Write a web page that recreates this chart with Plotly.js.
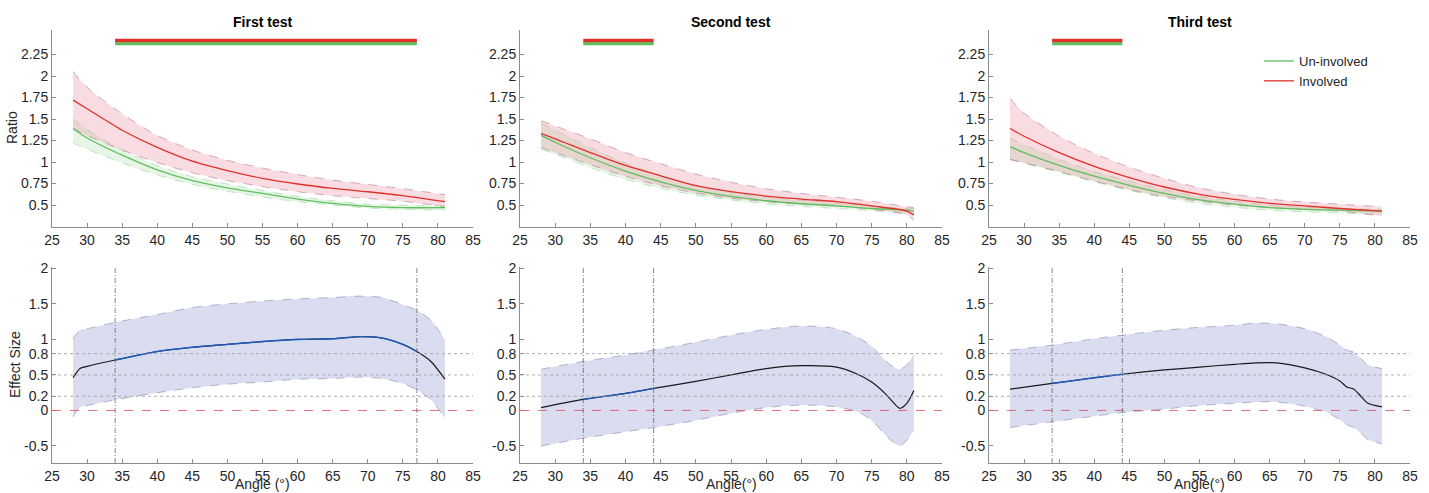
<!DOCTYPE html>
<html>
<head>
<meta charset="utf-8">
<script src="https://cdn.plot.ly/plotly-3.0.1.min.js"></script>
<style>html,body{margin:0;padding:0;background:#fff;}#chart{width:1429px;height:493px;}</style>
</head>
<body>
<div id="chart"></div>
<script>
// ---------- Data ----------
const testTitles = ['First test', 'Second test', 'Third test'];
const xTitles = ['Angle (°)', 'Angle(°)', 'Angle(°)'];
const sigStart = [34, 34, 34];
const sigEnd = [77, 44, 44];
const esRefLines = [0.8, 0.5, 0.2];
const ratioTicks = [0.5, 0.75, 1, 1.25, 1.5, 1.75, 2, 2.25];
const esTicks = [-0.5, 0, 0.2, 0.5, 0.8, 1, 1.5, 2];
const xTicks = [25, 30, 35, 40, 45, 50, 55, 60, 65, 70, 75, 80, 85];
const sigRedLevel = 2.41;
const sigGreenLevel = 2.375;

// First test - ratio
const angR1 = [28, 30, 35, 40, 45, 50, 55, 60, 65, 70, 75, 81];
const invMean1 = [1.72, 1.62, 1.37, 1.17, 1.01, 0.90, 0.81, 0.745, 0.695, 0.655, 0.61, 0.54];
const invUp1 = [2.05, 1.87, 1.56, 1.31, 1.14, 1.02, 0.93, 0.855, 0.79, 0.74, 0.69, 0.62];
const invLow1 = [1.39, 1.31, 1.14, 0.995, 0.875, 0.785, 0.715, 0.655, 0.61, 0.575, 0.545, 0.48];
const uniMean1 = [1.39, 1.28, 1.08, 0.91, 0.785, 0.70, 0.635, 0.57, 0.52, 0.485, 0.47, 0.47];
const uniUp1 = [1.50, 1.38, 1.14, 0.96, 0.83, 0.745, 0.67, 0.60, 0.55, 0.51, 0.50, 0.49];
const uniLow1 = [1.22, 1.15, 0.99, 0.85, 0.74, 0.66, 0.595, 0.54, 0.50, 0.465, 0.45, 0.44];

// Second test - ratio
const angR2 = [28, 30, 35, 40, 45, 50, 55, 60, 65, 70, 75, 80, 81];
const invMean2 = [1.33, 1.27, 1.11, 0.96, 0.84, 0.725, 0.655, 0.605, 0.57, 0.54, 0.49, 0.43, 0.385];
const invUp2 = [1.48, 1.42, 1.27, 1.11, 0.98, 0.86, 0.765, 0.69, 0.635, 0.59, 0.545, 0.48, 0.47];
const invLow2 = [1.17, 1.11, 0.97, 0.835, 0.725, 0.64, 0.58, 0.54, 0.51, 0.49, 0.45, 0.385, 0.32];
const uniMean2 = [1.31, 1.23, 1.05, 0.895, 0.77, 0.67, 0.60, 0.55, 0.515, 0.49, 0.46, 0.44, 0.43];
const uniUp2 = [1.45, 1.37, 1.17, 0.99, 0.845, 0.73, 0.65, 0.595, 0.555, 0.525, 0.49, 0.46, 0.46];
const uniLow2 = [1.15, 1.09, 0.935, 0.80, 0.695, 0.615, 0.56, 0.515, 0.485, 0.46, 0.435, 0.41, 0.40];

// Third test - ratio
const angR3 = [28, 30, 35, 40, 45, 50, 55, 60, 65, 70, 75, 81];
const invMean3 = [1.39, 1.30, 1.11, 0.95, 0.82, 0.71, 0.625, 0.565, 0.52, 0.49, 0.46, 0.43];
const invUp3 = [1.74, 1.57, 1.30, 1.10, 0.94, 0.81, 0.70, 0.625, 0.57, 0.535, 0.51, 0.48];
const invLow3 = [1.03, 0.99, 0.89, 0.78, 0.68, 0.60, 0.545, 0.50, 0.47, 0.45, 0.43, 0.37];
const uniMean3 = [1.18, 1.11, 0.96, 0.835, 0.73, 0.635, 0.56, 0.51, 0.47, 0.45, 0.44, 0.43];
const uniUp3 = [1.28, 1.20, 1.03, 0.89, 0.78, 0.68, 0.60, 0.545, 0.50, 0.475, 0.46, 0.45];
const uniLow3 = [1.03, 0.99, 0.88, 0.77, 0.67, 0.585, 0.52, 0.475, 0.44, 0.42, 0.41, 0.39];

// Effect sizes
const angE1 = [28, 29, 30, 34, 40, 45, 50, 55, 60, 65, 69, 72, 75, 77, 79, 81];
const esMean1 = [0.46, 0.59, 0.62, 0.71, 0.83, 0.89, 0.93, 0.97, 1.00, 1.01, 1.04, 1.02, 0.93, 0.83, 0.69, 0.44];
const esUp1 = [1.01, 1.13, 1.15, 1.24, 1.35, 1.45, 1.50, 1.54, 1.57, 1.59, 1.61, 1.59, 1.49, 1.41, 1.27, 0.99];
const esLow1 = [-0.09, 0.05, 0.07, 0.15, 0.25, 0.32, 0.37, 0.40, 0.44, 0.45, 0.47, 0.45, 0.38, 0.29, 0.15, -0.11];

const angE2 = [28, 34, 40, 44, 50, 55, 60, 65, 70, 73, 75, 77, 78, 79, 80, 81];
const esMean2 = [0.04, 0.155, 0.24, 0.31, 0.41, 0.50, 0.59, 0.63, 0.61, 0.51, 0.40, 0.23, 0.12, 0.03, 0.10, 0.28];
const esUp2 = [0.58, 0.69, 0.78, 0.85, 0.96, 1.06, 1.14, 1.19, 1.15, 1.03, 0.90, 0.70, 0.62, 0.58, 0.64, 0.80];
const esLow2 = [-0.50, -0.39, -0.30, -0.24, -0.14, -0.04, 0.04, 0.075, 0.05, -0.02, -0.14, -0.35, -0.44, -0.50, -0.42, -0.28];

const angE3 = [28, 34, 40, 44, 50, 55, 60, 63, 66, 70, 73, 75, 76, 77, 78, 79, 81];
const esMean3 = [0.30, 0.38, 0.46, 0.51, 0.57, 0.61, 0.65, 0.67, 0.67, 0.60, 0.51, 0.415, 0.33, 0.30, 0.20, 0.10, 0.05];
const esUp3 = [0.85, 0.92, 1.01, 1.06, 1.13, 1.17, 1.20, 1.23, 1.22, 1.15, 1.04, 0.92, 0.85, 0.82, 0.73, 0.64, 0.59];
const esLow3 = [-0.24, -0.16, -0.08, -0.03, 0.02, 0.07, 0.10, 0.12, 0.12, 0.06, -0.02, -0.13, -0.20, -0.24, -0.32, -0.41, -0.47];

// ---------- Build ----------
const ratioSets = [
  {x: angR1, im: invMean1, iu: invUp1, il: invLow1, um: uniMean1, uu: uniUp1, ul: uniLow1},
  {x: angR2, im: invMean2, iu: invUp2, il: invLow2, um: uniMean2, uu: uniUp2, ul: uniLow2},
  {x: angR3, im: invMean3, iu: invUp3, il: invLow3, um: uniMean3, uu: uniUp3, ul: uniLow3}
];
const esSets = [
  {x: angE1, m: esMean1, u: esUp1, l: esLow1},
  {x: angE2, m: esMean2, u: esUp2, l: esLow2},
  {x: angE3, m: esMean3, u: esUp3, l: esLow3}
];

const RED = '#e0302a', GREEN = '#5fbf5f', BLUE = '#1f5bbf';
const W = 1429, H = 493;
const xDom = [[52 / W, 473 / W], [520 / W, 942 / W], [989 / W, 1410 / W]];
const yTop = [1 - 227 / H, 1 - 30 / H];
const yBot = [1 - 463 / H, 1 - 267 / H];

const traces = [];
const shapes = [];
const annotations = [];
const layout = {
  width: W, height: H,
  margin: {l: 0, r: 0, t: 0, b: 0},
  paper_bgcolor: '#fff', plot_bgcolor: '#fff',
  font: {family: 'Liberation Sans, Arial, sans-serif', size: 14, color: '#262626'},
  showlegend: true,
  legend: {x: 1259 / W, y: 1 - 46 / H, xanchor: 'left', yanchor: 'top', bgcolor: 'rgba(0,0,0,0)',
           traceorder: 'normal', font: {size: 13, color: '#262626'}, itemwidth: 30, tracegroupgap: 0},
  shapes: shapes, annotations: annotations
};

const spl = {shape: 'spline', smoothing: 0.8};

function axisCommon(extra) {
  return Object.assign({
    showline: true, linecolor: '#8c8c8c', linewidth: 1,
    ticks: 'inside', ticklen: 4, tickcolor: '#8c8c8c',
    showgrid: false, zeroline: false, mirror: false,
    tickfont: {size: 14, color: '#262626'}, fixedrange: true
  }, extra);
}

for (let p = 0; p < 3; p++) {
  const rs = ratioSets[p], es = esSets[p];
  const tx = p === 0 ? 'x' : 'x' + (p + 1);
  const ty = p === 0 ? 'y' : 'y' + (p + 1);
  const bx = 'x' + (p + 4), by = 'y' + (p + 4);
  const txKey = p === 0 ? 'xaxis' : 'xaxis' + (p + 1);
  const tyKey = p === 0 ? 'yaxis' : 'yaxis' + (p + 1);

  layout[txKey] = axisCommon({domain: xDom[p], range: [25, 85], tickvals: xTicks, anchor: ty});
  layout[tyKey] = axisCommon({domain: yTop, range: [0.245, 2.535], tickvals: ratioTicks,
    ticktext: ratioTicks.map(String), anchor: tx});
  layout['xaxis' + (p + 4)] = axisCommon({domain: xDom[p], range: [25, 85], tickvals: xTicks, anchor: by});
  layout['yaxis' + (p + 4)] = axisCommon({domain: yBot, range: [-0.74, 2.02], tickvals: esTicks,
    ticktext: esTicks.map(String), anchor: bx});

  // Un-involved band
  traces.push({x: rs.x, y: rs.ul, xaxis: tx, yaxis: ty, mode: 'lines', showlegend: false, hoverinfo: 'skip',
    line: Object.assign({color: 'rgba(95,191,95,0.45)', width: 0.8, dash: 'dash'}, spl)});
  traces.push({x: rs.x, y: rs.uu, xaxis: tx, yaxis: ty, mode: 'lines', showlegend: false, hoverinfo: 'skip',
    fill: 'tonexty', fillcolor: 'rgba(120,200,120,0.18)',
    line: Object.assign({color: 'rgba(95,191,95,0.45)', width: 0.8, dash: 'dash'}, spl)});
  // Involved band
  traces.push({x: rs.x, y: rs.il, xaxis: tx, yaxis: ty, mode: 'lines', showlegend: false, hoverinfo: 'skip',
    line: Object.assign({color: 'rgba(150,80,100,0.55)', width: 0.8, dash: 'dash'}, spl)});
  traces.push({x: rs.x, y: rs.iu, xaxis: tx, yaxis: ty, mode: 'lines', showlegend: false, hoverinfo: 'skip',
    fill: 'tonexty', fillcolor: 'rgba(235,130,150,0.28)',
    line: Object.assign({color: 'rgba(150,80,100,0.55)', width: 0.8, dash: 'dash'}, spl)});
  // Means
  traces.push({x: rs.x, y: rs.um, xaxis: tx, yaxis: ty, mode: 'lines', name: 'Un-involved',
    showlegend: p === 2, legendrank: 1, line: Object.assign({color: GREEN, width: 1.3}, spl)});
  traces.push({x: rs.x, y: rs.im, xaxis: tx, yaxis: ty, mode: 'lines', name: 'Involved',
    showlegend: p === 2, legendrank: 2, line: Object.assign({color: RED, width: 1.3}, spl)});
  // Significance bars
  traces.push({x: [sigStart[p], sigEnd[p]], y: [sigRedLevel, sigRedLevel], xaxis: tx, yaxis: ty, mode: 'lines',
    showlegend: false, hoverinfo: 'skip', line: {color: RED, width: 4}});
  traces.push({x: [sigStart[p], sigEnd[p]], y: [sigGreenLevel, sigGreenLevel], xaxis: tx, yaxis: ty, mode: 'lines',
    showlegend: false, hoverinfo: 'skip', line: {color: GREEN, width: 3}});

  // Effect size band
  traces.push({x: es.x, y: es.l, xaxis: bx, yaxis: by, mode: 'lines', showlegend: false, hoverinfo: 'skip',
    line: Object.assign({color: '#9098ba', width: 0.7, dash: 'dash'}, spl)});
  traces.push({x: es.x, y: es.u, xaxis: bx, yaxis: by, mode: 'lines', showlegend: false, hoverinfo: 'skip',
    fill: 'tonexty', fillcolor: '#d9ddef',
    line: Object.assign({color: '#9098ba', width: 0.7, dash: 'dash'}, spl)});
  // Effect mean, black full, blue in significant window
  traces.push({x: es.x, y: es.m, xaxis: bx, yaxis: by, mode: 'lines', showlegend: false,
    line: Object.assign({color: '#1a1a1a', width: 1.2}, spl)});
  const sx = [], sy = [];
  es.x.forEach((a, i) => { if (a >= sigStart[p] && a <= sigEnd[p]) { sx.push(a); sy.push(es.m[i]); } });
  traces.push({x: sx, y: sy, xaxis: bx, yaxis: by, mode: 'lines', showlegend: false,
    line: Object.assign({color: BLUE, width: 1.4}, spl)});

  // Reference lines
  esRefLines.forEach(v => shapes.push({type: 'line', xref: bx + ' domain', yref: by, x0: 0, x1: 1, y0: v, y1: v,
    line: {color: '#9a9a9a', width: 0.8, dash: 'dot'}, layer: 'above'}));
  shapes.push({type: 'line', xref: bx + ' domain', yref: by, x0: 0, x1: 1, y0: 0, y1: 0,
    line: {color: '#e05a6a', width: 0.9, dash: 'dash'}, layer: 'above'});
  [sigStart[p], sigEnd[p]].forEach(v => shapes.push({type: 'line', xref: bx, yref: by + ' domain', x0: v, x1: v, y0: 0, y1: 1,
    line: {color: '#555', width: 0.7, dash: '5px,2px,1px,2px'}, layer: 'above'}));

  // Titles
  const cx = (xDom[p][0] + xDom[p][1]) / 2;
  annotations.push({text: '<b>' + testTitles[p] + '</b>', xref: 'paper', yref: 'paper', x: cx, y: 1 - 22 / H,
    xanchor: 'center', yanchor: 'middle', showarrow: false, font: {size: 14, color: '#000'}});
  annotations.push({text: xTitles[p], xref: 'paper', yref: 'paper', x: cx, y: 1 - 484 / H,
    xanchor: 'center', yanchor: 'middle', showarrow: false, font: {size: 14, color: '#262626'}});
}
annotations.push({text: 'Ratio', xref: 'paper', yref: 'paper', x: 12 / W, y: 1 - 128 / H, textangle: -90,
  xanchor: 'center', yanchor: 'middle', showarrow: false, font: {size: 14, color: '#262626'}});
annotations.push({text: 'Effect Size', xref: 'paper', yref: 'paper', x: 15 / W, y: 1 - 365 / H, textangle: -90,
  xanchor: 'center', yanchor: 'middle', showarrow: false, font: {size: 14, color: '#262626'}});

Plotly.newPlot('chart', traces, layout, {displayModeBar: false, staticPlot: true});
</script>
</body>
</html>
